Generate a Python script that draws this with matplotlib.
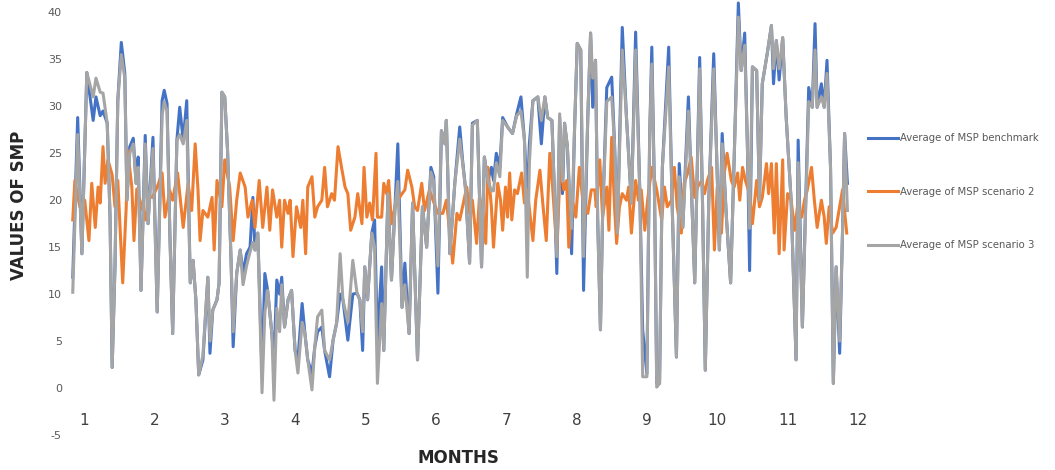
import matplotlib
matplotlib.use("Agg")
import matplotlib.pyplot as plt

# month position of each reading (benchmark and scenario 3 share these)
months_bg = [0.84, 0.91, 0.97, 1.04, 1.13, 1.17, 1.23, 1.27, 1.33, 1.37, 1.40, 1.44, 1.48, 1.53,
             1.58, 1.61, 1.65, 1.70, 1.74, 1.77, 1.81, 1.87, 1.91, 1.98, 2.04, 2.11, 2.14, 2.18,
             2.22, 2.26, 2.32, 2.36, 2.41, 2.46, 2.51, 2.55, 2.59, 2.63, 2.69, 2.76, 2.79, 2.83,
             2.89, 2.92, 2.96, 3.00, 3.04, 3.09, 3.12, 3.17, 3.22, 3.26, 3.31, 3.36, 3.40, 3.43,
             3.47, 3.53, 3.57, 3.61, 3.67, 3.70, 3.74, 3.78, 3.81, 3.85, 3.90, 3.95, 4.00, 4.04,
             4.10, 4.14, 4.18, 4.24, 4.28, 4.32, 4.38, 4.42, 4.49, 4.54, 4.59, 4.64, 4.68, 4.75,
             4.82, 4.88, 4.92, 4.96, 4.99, 5.03, 5.09, 5.13, 5.17, 5.23, 5.26, 5.32, 5.37, 5.42,
             5.46, 5.52, 5.56, 5.62, 5.67, 5.74, 5.81, 5.87, 5.93, 5.97, 6.03, 6.08, 6.13, 6.15,
             6.20, 6.27, 6.34, 6.38, 6.42, 6.48, 6.52, 6.59, 6.65, 6.69, 6.74, 6.79, 6.82, 6.86,
             6.91, 6.95, 7.02, 7.09, 7.15, 7.21, 7.26, 7.30, 7.33, 7.38, 7.45, 7.50, 7.55, 7.59,
             7.65, 7.69, 7.72, 7.76, 7.80, 7.83, 7.87, 7.93, 7.97, 8.01, 8.06, 8.10, 8.16, 8.20,
             8.23, 8.27, 8.30, 8.34, 8.37, 8.43, 8.50, 8.54, 8.58, 8.65, 8.71, 8.78, 8.84, 8.90,
             8.94, 9.00, 9.04, 9.07, 9.11, 9.14, 9.18, 9.22, 9.31, 9.36, 9.42, 9.46, 9.51, 9.59,
             9.63, 9.68, 9.75, 9.79, 9.83, 9.88, 9.95, 9.99, 10.03, 10.07, 10.13, 10.19, 10.24,
             10.30, 10.34, 10.39, 10.43, 10.46, 10.50, 10.56, 10.60, 10.64, 10.71, 10.77, 10.80,
             10.84, 10.88, 10.93, 10.98, 11.05, 11.12, 11.15, 11.21, 11.30, 11.35, 11.39, 11.42,
             11.48, 11.52, 11.56, 11.61, 11.65, 11.69, 11.74, 11.78, 11.81, 11.85]

msp_benchmark = [11.8, 28.8, 14.3, 33.6, 28.5, 31.0, 29.0, 29.5, 28.2, 18.2, 2.2, 12.9, 30.6, 36.8,
                 33.5, 20.0, 25.7, 26.6, 21.8, 24.6, 10.4, 26.9, 17.5, 26.7, 8.1, 30.6, 31.7, 30.3,
                 16.5, 5.8, 26.4, 29.9, 26.4, 30.6, 11.2, 13.6, 9.4, 1.4, 3.0, 11.8, 3.7, 8.3,
                 9.4, 11.2, 31.5, 31.0, 25.3, 13.6, 4.4, 12.2, 14.7, 12.2, 14.3, 15.0, 20.3, 14.7,
                 16.5, 1.5, 12.2, 10.4, 5.8, 3.0, 11.5, 10.0, 11.8, 6.5, 9.4, 10.4, 4.0, 3.0,
                 9.0, 5.8, 3.0, 1.5, 4.4, 6.0, 6.5, 4.0, 1.2, 5.1, 6.9, 10.0, 9.4, 5.1,
                 10.0, 10.1, 9.4, 4.0, 12.9, 9.4, 16.5, 17.9, 5.0, 12.9, 4.0, 20.7, 11.5, 19.3,
                 26.0, 8.6, 13.3, 5.8, 19.7, 3.0, 19.3, 15.0, 23.5, 22.5, 10.1, 27.4, 26.0, 28.5,
                 14.3, 21.8, 27.8, 24.3, 21.4, 13.3, 28.2, 28.5, 12.9, 24.6, 22.1, 23.5, 22.1, 25.0,
                 23.5, 28.8, 27.8, 27.1, 29.2, 31.0, 26.4, 20.0, 26.0, 30.6, 31.0, 26.0, 31.0, 28.8,
                 28.5, 20.0, 12.2, 28.8, 20.7, 28.2, 25.7, 14.3, 27.1, 36.7, 36.0, 10.4, 28.8, 37.8,
                 29.9, 34.9, 18.2, 6.2, 18.2, 32.0, 33.1, 26.0, 16.5, 38.4, 28.8, 19.7, 37.9, 20.7,
                 6.2, 1.5, 27.1, 36.3, 20.0, 0.5, 0.5, 23.5, 36.3, 19.3, 3.3, 23.9, 17.1, 31.0,
                 21.8, 11.2, 35.2, 20.0, 1.9, 20.0, 35.6, 25.3, 14.7, 27.1, 18.2, 11.2, 24.3,
                 41.0, 33.8, 37.8, 25.3, 12.5, 34.2, 33.8, 20.0, 32.4, 35.6, 38.6, 32.4,
                 37.0, 32.8, 37.3, 28.8, 20.0, 3.0, 26.4, 6.5, 32.0, 29.9, 38.8, 29.9,
                 32.4, 29.9, 34.9, 23.5, 0.5, 12.9, 3.7, 16.5, 27.1, 21.8]

msp_scenario3 = [10.2, 27.0, 14.3, 33.6, 31.0, 33.0, 31.5, 31.4, 28.2, 18.2, 2.2, 12.9, 30.6, 35.5,
                 33.0, 20.0, 25.0, 26.0, 21.8, 23.5, 10.4, 26.0, 17.5, 25.5, 8.1, 29.0, 30.5, 29.5,
                 16.5, 5.8, 26.4, 27.0, 26.0, 28.5, 11.2, 13.6, 9.4, 1.4, 3.5, 11.8, 5.0, 8.3,
                 9.4, 11.2, 31.5, 31.0, 25.3, 13.6, 6.0, 12.2, 14.7, 11.0, 13.0, 14.5, 15.5, 14.7,
                 16.5, -0.5, 8.0, 10.4, 5.8, -1.3, 8.5, 6.0, 11.0, 6.5, 9.4, 10.4, 4.0, 1.6,
                 7.0, 5.8, 3.0, -0.2, 4.4, 7.6, 8.3, 4.0, 3.0, 5.1, 6.9, 14.3, 9.4, 7.0,
                 13.6, 10.1, 9.4, 6.0, 12.9, 9.4, 16.5, 15.0, 0.5, 9.0, 4.0, 20.7, 11.5, 19.3,
                 22.0, 8.6, 11.0, 5.8, 19.7, 3.0, 19.3, 15.0, 23.0, 22.0, 13.0, 27.4, 26.0, 28.5,
                 14.3, 21.8, 26.5, 24.0, 21.4, 13.3, 28.0, 28.5, 12.9, 24.6, 22.1, 21.0, 21.0, 24.0,
                 22.5, 28.5, 27.8, 27.1, 29.0, 29.5, 26.4, 11.8, 24.0, 30.6, 31.0, 28.5, 31.0, 28.8,
                 28.5, 20.0, 14.0, 29.2, 22.0, 28.2, 25.7, 17.0, 27.1, 36.7, 36.0, 14.0, 28.8, 37.8,
                 33.0, 34.9, 18.2, 6.2, 18.2, 30.5, 31.0, 26.0, 16.5, 36.0, 28.8, 19.7, 36.0, 20.7,
                 1.2, 1.2, 27.1, 34.5, 20.0, 0.1, 0.5, 23.5, 34.2, 19.3, 3.3, 22.5, 17.1, 29.5,
                 21.8, 11.2, 34.0, 20.0, 1.9, 20.0, 34.0, 25.3, 14.7, 26.0, 18.2, 11.2, 24.3,
                 39.5, 33.8, 36.5, 25.3, 17.0, 34.2, 33.8, 20.0, 32.4, 35.6, 38.6, 34.0,
                 37.0, 34.0, 37.3, 28.8, 20.0, 3.0, 24.0, 6.5, 30.5, 29.9, 36.0, 29.9,
                 31.0, 29.9, 33.5, 23.5, 0.5, 12.9, 5.0, 16.5, 27.1, 18.9]

months_s2 = [0.84, 0.87, 0.94, 1.01, 1.07, 1.11, 1.16, 1.20, 1.23, 1.27, 1.30, 1.34, 1.40, 1.44,
             1.48, 1.55, 1.60, 1.62, 1.68, 1.71, 1.75, 1.82, 1.88, 1.91, 1.97, 2.04, 2.11, 2.15,
             2.22, 2.26, 2.33, 2.41, 2.48, 2.53, 2.58, 2.62, 2.65, 2.69, 2.76, 2.82, 2.85, 2.89,
             2.96, 3.00, 3.07, 3.12, 3.17, 3.22, 3.29, 3.33, 3.39, 3.43, 3.49, 3.54, 3.60, 3.64,
             3.68, 3.74, 3.78, 3.81, 3.85, 3.90, 3.93, 3.97, 4.02, 4.08, 4.11, 4.15, 4.18, 4.24,
             4.28, 4.32, 4.38, 4.42, 4.46, 4.52, 4.56, 4.61, 4.66, 4.71, 4.75, 4.79, 4.85, 4.89,
             4.95, 4.98, 5.02, 5.06, 5.10, 5.15, 5.17, 5.23, 5.26, 5.30, 5.33, 5.37, 5.42, 5.46,
             5.52, 5.56, 5.60, 5.66, 5.70, 5.74, 5.80, 5.84, 5.91, 5.96, 6.03, 6.10, 6.15, 6.20,
             6.24, 6.30, 6.34, 6.38, 6.44, 6.48, 6.52, 6.58, 6.62, 6.67, 6.71, 6.74, 6.79, 6.82,
             6.88, 6.92, 6.95, 6.99, 7.02, 7.05, 7.08, 7.12, 7.16, 7.22, 7.26, 7.30, 7.38, 7.42,
             7.48, 7.52, 7.57, 7.62, 7.66, 7.72, 7.77, 7.82, 7.86, 7.89, 7.94, 7.99, 8.04, 8.09,
             8.16, 8.21, 8.26, 8.28, 8.33, 8.37, 8.43, 8.46, 8.50, 8.54, 8.57, 8.61, 8.65, 8.71,
             8.74, 8.78, 8.84, 8.88, 8.92, 8.97, 9.01, 9.07, 9.14, 9.21, 9.25, 9.29, 9.35, 9.39,
             9.43, 9.49, 9.53, 9.58, 9.63, 9.68, 9.72, 9.78, 9.82, 9.86, 9.92, 9.96, 10.00, 10.06,
             10.10, 10.14, 10.20, 10.24, 10.29, 10.32, 10.36, 10.40, 10.46, 10.50, 10.56, 10.60,
             10.64, 10.70, 10.73, 10.77, 10.81, 10.84, 10.88, 10.93, 10.95, 11.00, 11.05, 11.10,
             11.14, 11.20, 11.24, 11.28, 11.34, 11.38, 11.42, 11.48, 11.52, 11.55, 11.59, 11.64,
             11.69, 11.74, 11.78, 11.84]

msp_scenario2 = [17.9, 22.1, 19.3, 20.0, 15.7, 21.8, 17.1, 21.4, 19.7, 25.7, 21.8, 24.3, 22.7, 19.3,
                 22.1, 11.2, 19.3, 25.3, 21.4, 15.7, 21.2, 19.3, 17.9, 20.5, 20.3, 21.4, 22.9, 18.2,
                 21.0, 20.0, 22.9, 17.1, 21.8, 18.9, 26.0, 21.1, 15.7, 18.9, 18.2, 20.3, 14.7, 22.1,
                 19.3, 24.3, 21.4, 15.7, 20.0, 22.9, 21.4, 18.2, 20.0, 17.1, 22.1, 17.1, 21.4, 16.8,
                 21.1, 18.2, 20.0, 15.0, 20.0, 18.6, 20.0, 14.0, 19.3, 17.1, 20.0, 14.3, 21.4, 22.5,
                 18.2, 19.3, 20.0, 23.5, 19.3, 20.7, 20.0, 25.7, 23.5, 21.4, 20.7, 16.8, 18.2, 20.7,
                 17.5, 23.5, 18.2, 19.7, 17.9, 25.0, 18.2, 18.2, 21.8, 20.7, 22.1, 17.5, 19.3, 20.0,
                 20.7, 21.1, 23.2, 21.4, 19.3, 18.9, 21.8, 18.9, 21.1, 20.0, 18.6, 18.6, 20.0, 16.5,
                 13.3, 18.6, 17.9, 19.3, 21.4, 18.6, 20.0, 15.4, 20.3, 18.6, 15.4, 23.5, 19.3, 15.0,
                 21.8, 20.0, 16.8, 21.4, 18.2, 22.9, 17.9, 21.1, 20.7, 22.9, 19.7, 21.1, 15.7, 20.0,
                 23.2, 19.7, 15.7, 25.0, 21.4, 14.7, 23.9, 21.1, 22.1, 15.0, 20.0, 18.2, 23.5, 20.0,
                 18.6, 21.1, 21.1, 19.3, 24.3, 18.2, 21.4, 16.8, 26.7, 19.3, 15.4, 19.3, 20.7, 20.0,
                 21.4, 16.5, 22.1, 20.0, 21.1, 16.8, 20.0, 23.5, 21.1, 17.9, 21.4, 19.3, 20.0, 23.5,
                 19.3, 16.5, 21.8, 22.9, 24.6, 20.3, 21.4, 22.1, 20.7, 22.1, 23.5, 14.7, 21.4, 16.5,
                 22.9, 25.0, 22.1, 21.4, 22.9, 20.0, 23.5, 22.1, 20.7, 17.5, 22.1, 19.3,
                 20.3, 23.9, 20.7, 23.9, 16.5, 23.9, 14.3, 24.3, 14.7, 20.7, 20.0, 16.8,
                 19.3, 18.2, 20.0, 21.1, 23.5, 20.0, 17.1, 20.0, 18.2, 15.4, 19.3, 16.5,
                 17.1, 19.3, 21.1, 16.5]

month_ticks = list(range(1, 13))
value_ticks = list(range(-5, 45, 5))
series_names = ["Average of MSP benchmark", "Average of MSP scenario 2", "Average of MSP scenario 3"]


def main():
    plt.rcParams["axes.unicode_minus"] = False
    fig = plt.figure(figsize=(10.55, 4.7), dpi=100)
    ax = fig.add_axes([66 / 1055, 35 / 470, 799 / 1055, 432 / 470])

    ax.plot(months_bg, msp_benchmark, color="#4472C4", lw=2.2, label=series_names[0], clip_on=False)
    ax.plot(months_s2, msp_scenario2, color="#ED7D31", lw=2.2, label=series_names[1], clip_on=False)
    ax.plot(months_bg, msp_scenario3, color="#A5A5A5", lw=2.2, label=series_names[2], clip_on=False)

    ax.set_xlim(0.744, 12.1)
    ax.set_ylim(-5, 41)
    ax.set_xticks(month_ticks)
    ax.set_yticks(value_ticks)
    for s in ax.spines.values():
        s.set_visible(False)
    ax.tick_params(axis="x", length=0, pad=-16, labelsize=11, labelcolor="#404040")
    ax.tick_params(axis="y", length=0, pad=3, labelsize=8, labelcolor="#595959")

    fig.text(19 / 1055, 1 - 205 / 470, "VALUES OF SMP", rotation=90, ha="center", va="center",
             fontsize=12, fontweight="bold", color="#262626")
    fig.text(458 / 1055, 1 - 458 / 470, "MONTHS", ha="center", va="center",
             fontsize=12, fontweight="bold", color="#262626")

    fig.legend(loc="upper left", bbox_to_anchor=(864 / 1055, 1 - 129 / 470), frameon=False,
               fontsize=7.3, labelcolor="#595959", handlelength=3.0, handletextpad=0.2,
               labelspacing=4.3, borderaxespad=0)

    fig.savefig("out.png", dpi=100)
    plt.close(fig)


if __name__ == "__main__":
    main()
